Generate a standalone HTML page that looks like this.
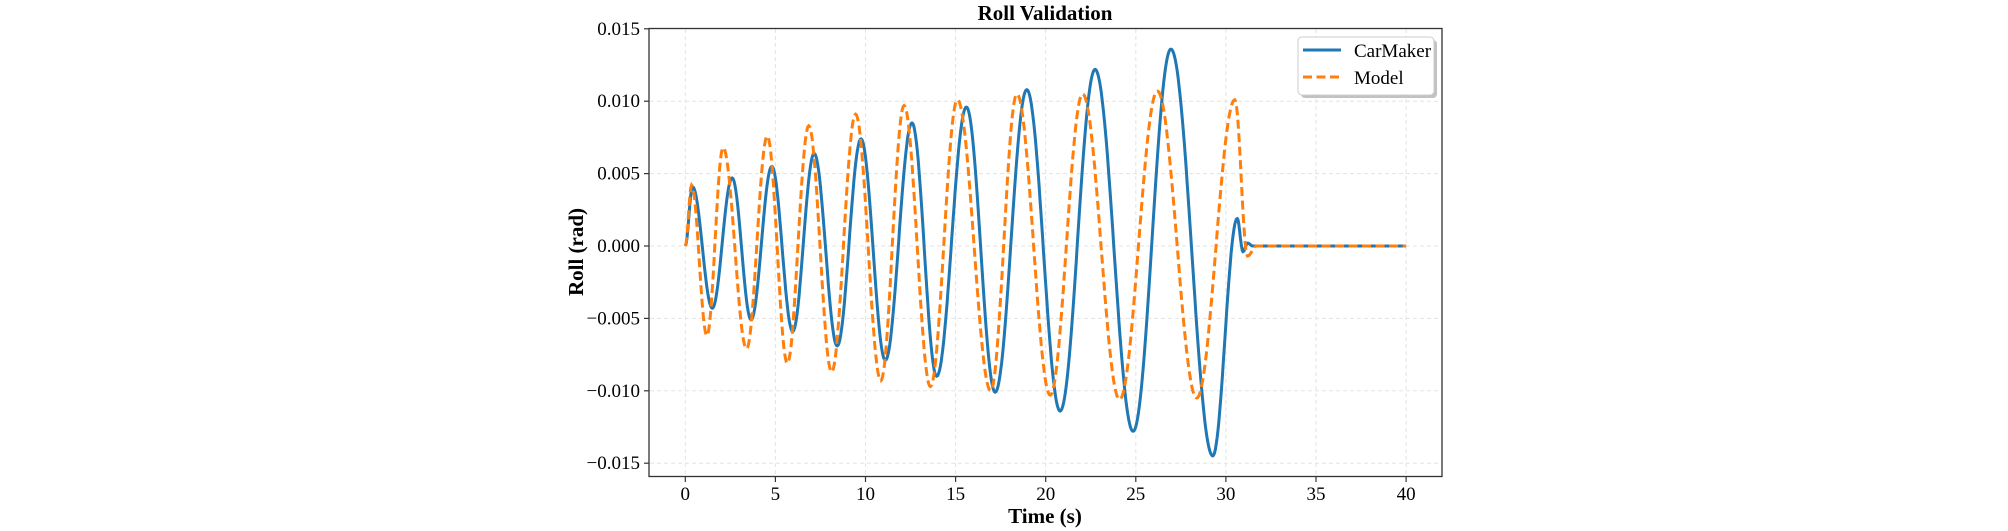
<!DOCTYPE html>
<html><head><meta charset="utf-8"><style>
html,body{margin:0;padding:0;background:#fff;}
svg{display:block;font-family:"Liberation Serif",serif;}
</style></head><body>
<svg id="s" width="2008" height="531" viewBox="0 0 2008 531" xmlns="http://www.w3.org/2000/svg">
<rect width="2008" height="531" fill="#fff"/>
<g id="grid" stroke="#e3e3e3" stroke-width="1" stroke-dasharray="4,3"></g>
<g id="ticks" font-size="19" fill="#000"></g>
<path id="blue" fill="none" stroke="#1f77b4" stroke-width="3" stroke-linejoin="round"/>
<path id="orange" fill="none" stroke="#ff7f0e" stroke-width="3" stroke-dasharray="9,4.5"/>
<rect x="649" y="28.5" width="793" height="448" fill="none" stroke="#333" stroke-width="1.3"/>
<text x="1045" y="20" font-size="21" font-weight="bold" text-anchor="middle">Roll Validation</text>
<text x="1045" y="523" font-size="21" font-weight="bold" text-anchor="middle">Time (s)</text>
<text transform="translate(583,252) rotate(-90)" font-size="21" font-weight="bold" text-anchor="middle">Roll (rad)</text>
<rect x="1301" y="40" width="136" height="58" rx="4" fill="#999" opacity="0.6"/>
<rect x="1298" y="37" width="136" height="58" rx="4" fill="#fff" stroke="#ccc" stroke-width="1"/>
<line x1="1303" y1="50" x2="1341" y2="50" stroke="#1f77b4" stroke-width="3"/>
<line x1="1303" y1="77" x2="1341" y2="77" stroke="#ff7f0e" stroke-width="3" stroke-dasharray="9,4.5"/>
<text x="1354" y="57" font-size="19">CarMaker</text>
<text x="1354" y="84" font-size="19">Model</text>
</svg>
<script>
const X=t=>685.3+t*18.02, Y=v=>246-v/0.005*72.4;
const ns="http://www.w3.org/2000/svg";
const g=document.getElementById('grid'), tk=document.getElementById('ticks');
function el(p,n,a,txt){const e=document.createElementNS(ns,n);for(const k in a)e.setAttribute(k,a[k]);if(txt!=null)e.textContent=txt;p.appendChild(e);}
for(let t=0;t<=40;t+=5){const x=X(t);el(g,'line',{x1:x,y1:29,x2:x,y2:476});
 el(tk,'line',{x1:x,y1:477,x2:x,y2:482,stroke:'#333','stroke-width':1.2});
 el(tk,'text',{x:x,y:500,'text-anchor':'middle'},String(t));}
for(let i=-3;i<=3;i++){const v=i*0.005,y=Y(v);el(g,'line',{x1:650,y1:y,x2:1441,y2:y});
 el(tk,'line',{x1:644,y1:y,x2:649,y2:y,stroke:'#333','stroke-width':1.2});
 let s=Math.abs(v).toFixed(3);if(i<0)s='\u2212'+s;
 el(tk,'text',{x:640,y:y+6,'text-anchor':'end'},s);}
function path(ext){let d='';let first=true;
 for(let i=0;i<ext.length-1;i++){const [t0,v0]=ext[i],[t1,v1]=ext[i+1];const n=Math.max(2,Math.ceil((t1-t0)*20));
  for(let k=0;k<=n;k++){if(!first&&k==0)continue;const f=k/n,w=(1-Math.cos(Math.PI*f))/2;
   const t=t0+(t1-t0)*f,v=v0+(v1-v0)*w;d+=(first?'M':'L')+X(t).toFixed(1)+','+Y(v).toFixed(1);first=false;}}
 return d;}
const B=[[0,0],[0.4,0.0041],[1.5,-0.0043],[2.6,0.0047],[3.65,-0.0051],[4.8,0.0055],[5.96,-0.0059],[7.15,0.0064],[8.43,-0.0069],[9.75,0.0074],[11.1,-0.0079],[12.58,0.0085],[13.95,-0.0090],[15.6,0.0096],[17.2,-0.0101],[18.95,0.0108],[20.8,-0.0114],[22.74,0.0122],[24.85,-0.0128],[26.95,0.0136],[29.27,-0.0145],[30.63,0.0019],[30.95,-0.0004],[31.2,0.0002],[31.5,0],[40,0]];
const O=[[0,0],[0.35,0.0042],[1.2,-0.0062],[2.1,0.0068],[3.4,-0.0071],[4.55,0.0076],[5.66,-0.0081],[6.85,0.0083],[8.12,-0.0087],[9.45,0.0091],[10.85,-0.0093],[12.14,0.0097],[13.6,-0.0097],[15.1,0.0101],[16.95,-0.0100],[18.4,0.0105],[20.25,-0.0103],[22.05,0.0105],[24.1,-0.0106],[26.2,0.0107],[28.38,-0.0105],[30.5,0.0101],[31.2,-0.0007],[31.7,0],[40,0]];
document.getElementById('blue').setAttribute('d',path(B));
document.getElementById('orange').setAttribute('d',path(O));
</script>
</body></html>
